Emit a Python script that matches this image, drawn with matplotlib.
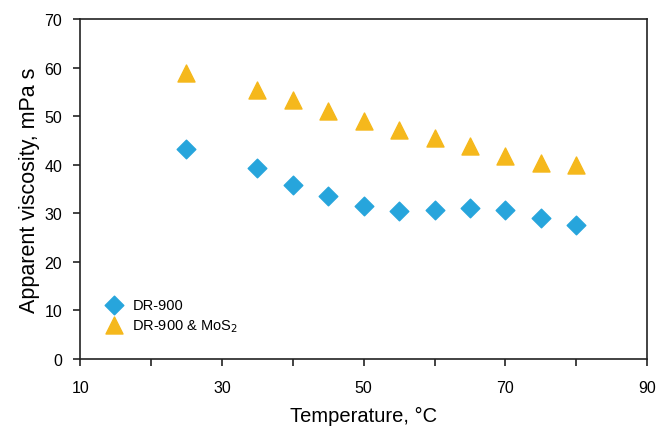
import matplotlib
matplotlib.use("Agg")
import matplotlib.pyplot as plt
from matplotlib.ticker import FixedLocator, MultipleLocator

plt.rcParams['font.family'] = ['Liberation Sans', 'DejaVu Sans']

# temperature, degC
temp = [25, 35, 40, 45, 50, 55, 60, 65, 70, 75, 80]
# apparent viscosity, mPa s
visc_dr900 = [43.3, 39.3, 35.8, 33.5, 31.6, 30.5, 30.7, 31.1, 30.6, 29.0, 27.6]
visc_mos2 = [58.9, 55.4, 53.3, 51.0, 49.0, 47.1, 45.5, 43.8, 41.8, 40.4, 39.9]

x_major = [10, 30, 50, 70, 90]
x_minor = [20, 40, 60, 80]

fig = plt.figure(figsize=(6.57, 4.27), dpi=100)
ax = fig.add_axes([0.122, 0.157, 0.863, 0.796])

ax.scatter(temp, visc_dr900, marker='D', s=90, color='#27a5dc', label='DR-900', zorder=3)
ax.scatter(temp, visc_mos2, marker='^', s=150, color='#f5b81c', label='DR-900 & MoS$_2$', zorder=3)

ax.set_xlim(10, 90)
ax.set_ylim(0, 70)
ax.xaxis.set_major_locator(FixedLocator(x_major))
ax.xaxis.set_minor_locator(FixedLocator(x_minor))
ax.yaxis.set_major_locator(MultipleLocator(10))
ax.tick_params(axis='both', which='both', direction='out', labelsize=11.5, color='#222222', width=1.2, length=5)
ax.tick_params(axis='x', pad=10)
ax.tick_params(axis='y', pad=8)
for s in ax.spines.values():
    s.set_linewidth(1.2)
    s.set_color('#222222')

ax.set_xlabel('Temperature, °C', fontsize=14.5, labelpad=8)
ax.set_ylabel('Apparent viscosity, mPa s', fontsize=15.5, labelpad=3)

ax.legend(loc='lower left', bbox_to_anchor=(0.01, 0.035), frameon=False, fontsize=10.5,
          handletextpad=0.3, labelspacing=0.35, borderaxespad=0.5)

fig.savefig('out.png', dpi=100)
